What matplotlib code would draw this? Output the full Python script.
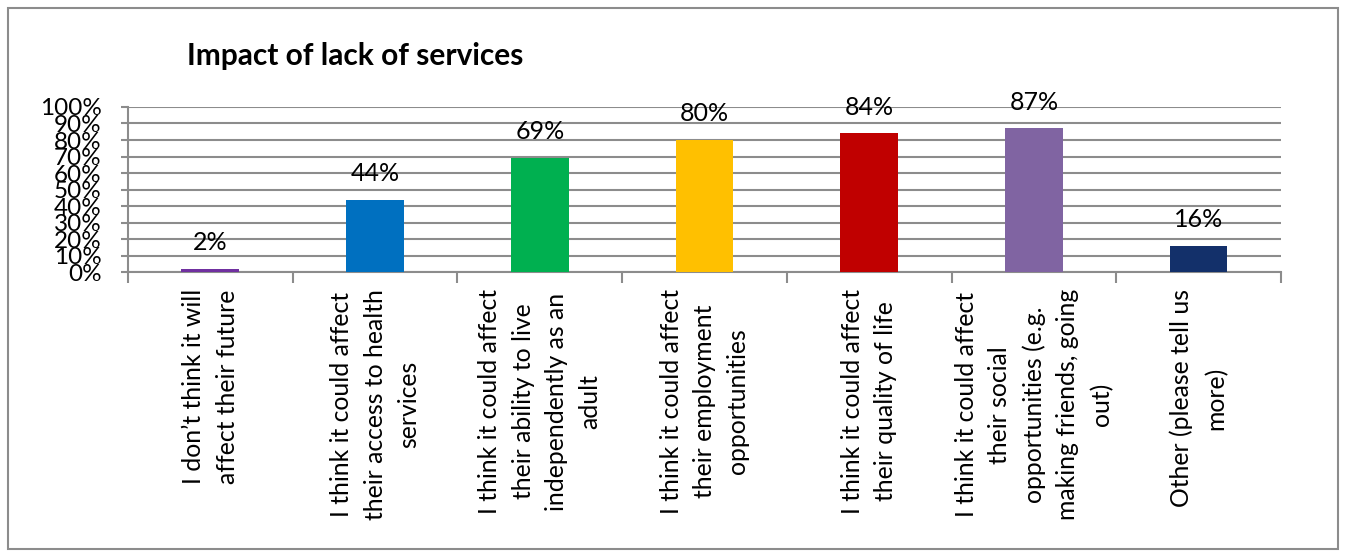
import matplotlib

matplotlib.use("Agg")
import matplotlib.pyplot as plt
from matplotlib.patches import Rectangle
from matplotlib.ticker import FixedLocator, PercentFormatter

categories = [
    "I don’t think it will\naffect their future",
    "I think it could affect\ntheir access to health\nservices",
    "I think it could affect\ntheir ability to live\nindependently as an\nadult",
    "I think it could affect\ntheir employment\nopportunities",
    "I think it could affect\ntheir quality of life",
    "I think it could affect\ntheir social\nopportunities (e.g.\nmaking friends, going\nout)",
    "Other (please tell us\nmore)",
]
values = [2, 44, 69, 80, 84, 87, 16]
colors = ["#7030A0", "#0070C0", "#00B050", "#FFC000", "#C00000", "#8064A2", "#13306A"]

GRID = "#8C8C8C"
plt.rcParams["font.family"] = ["Lato", "DejaVu Sans"]

fig = plt.figure(figsize=(13.47, 5.57), dpi=100)
fig.patches.append(Rectangle((0.006, 0.014), 0.987, 0.972, transform=fig.transFigure,
                             fill=False, edgecolor="#8C8C8C", lw=1.5))
ax = fig.add_axes([0.095, 0.511, 0.856, 0.297])

x = list(range(len(values)))
ax.bar(x, values, width=0.35, color=colors, zorder=3)
for xi, v in zip(x, values):
    ax.text(xi, v + 9, f"{v}%", ha="center", va="bottom", fontsize=18, zorder=4,
            clip_on=False)

ax.set_xlim(-0.5, len(values) - 0.5)
ax.set_ylim(0, 100)
ax.set_yticks(range(0, 101, 10))
ax.yaxis.set_major_formatter(PercentFormatter(decimals=0))
ax.tick_params(axis="y", labelsize=17.5, length=5, width=1.5, color=GRID, pad=14)
ax.grid(axis="y", color=GRID, lw=1.5, zorder=0)

ax.set_xticks(x)
ax.set_xticklabels(categories, rotation=90, fontsize=17.8, va="top", ha="center",
                   multialignment="center", linespacing=1.55)
ax.tick_params(axis="x", length=0, pad=12)
ax.xaxis.set_minor_locator(FixedLocator([i - 0.5 for i in range(len(values) + 1)]))
ax.tick_params(axis="x", which="minor", length=8, width=1.5, color=GRID)

for side in ("top", "right"):
    ax.spines[side].set_visible(False)
for side in ("left", "bottom"):
    ax.spines[side].set_color(GRID)
    ax.spines[side].set_linewidth(1.5)

fig.text(0.139, 0.9, "Impact of lack of services", fontsize=21.5, fontweight="bold",
         ha="left", va="center")

fig.savefig("out.png", dpi=100)
